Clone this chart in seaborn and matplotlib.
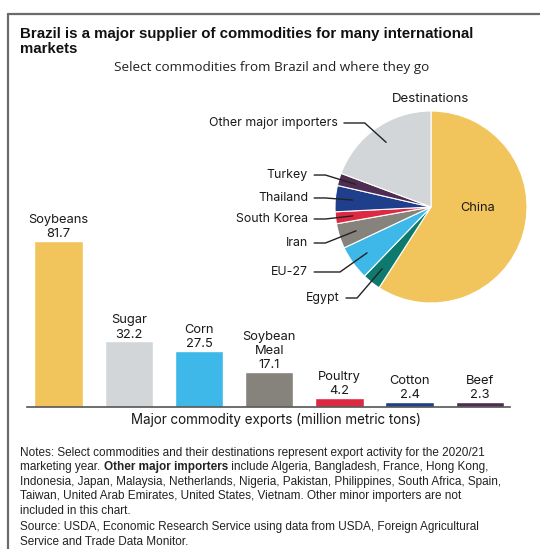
import math
import matplotlib
matplotlib.use("Agg")
import matplotlib.pyplot as plt
from matplotlib.lines import Line2D
import seaborn as sns
import pandas as pd

# bar data: exports in million metric tons
commodities = ["Soybeans", "Sugar", "Corn", "Soybean\nMeal", "Poultry", "Cotton", "Beef"]
exports = [81.7, 32.2, 27.5, 17.1, 4.2, 2.4, 2.3]
bar_colors = ["#f2c55c", "#d3d6d8", "#3db8e8", "#85837c", "#dc2a42", "#1f3f8c", "#4f2d52"]

# pie data: share of destinations (percent)
destinations = ["China", "Egypt", "EU-27", "Iran", "South Korea", "Thailand", "Turkey",
                "Other major importers"]
shares = [59.1, 3.1, 5.8, 4.2, 2.0, 4.4, 2.1, 19.3]
pie_colors = ["#f2c55c", "#0e7a6e", "#3db8e8", "#85837c", "#dc2a42", "#1f3f8c", "#4f2d52",
              "#d3d6d8"]

sns.set_theme(style="white")
plt.rcParams['font.family'] = ['Inter', 'DejaVu Sans']

W, H = 540, 549
fig = plt.figure(figsize=(5.4, 5.49), dpi=100)

# frame
fig.add_artist(Line2D([8 / W, 8 / W], [0, 1 - 14 / H], transform=fig.transFigure,
                      color="#6b6b6b", lw=1.6))
fig.add_artist(Line2D([8 / W, 1], [1 - 14 / H, 1 - 14 / H], transform=fig.transFigure,
                      color="#6b6b6b", lw=1.6))

# titles
fig.text(20 / W, 1 - 34 / H, "Brazil is a major supplier of commodities for many international",
         family="Liberation Sans", weight="bold", fontsize=10.8, va="center", color="#111")
fig.text(20 / W, 1 - 48.5 / H, "markets",
         family="Liberation Sans", weight="bold", fontsize=10.8, va="center", color="#111")
fig.text(272 / W, 1 - 68 / H, "Select commodities from Brazil and where they go",
         family="Open Sans", fontsize=9.7, ha="center", va="center", color="#222")

# bar chart
ax = fig.add_axes([27 / W, 1 - 406.7 / H, 483 / W, 206.7 / H])
df = pd.DataFrame({"commodity": commodities, "exports": exports})
sns.barplot(data=df, x="commodity", y="exports", hue="commodity", palette=bar_colors,
            legend=False, width=0.69, saturation=1, ax=ax)
ax.set_xlim(-0.45, 6.43)
ax.set_ylim(0, 101.8)
ax.set_xticks([])
ax.set_yticks([])
ax.set_xlabel("")
ax.set_ylabel("")
for s in ["top", "left", "right"]:
    ax.spines[s].set_visible(False)
ax.spines["bottom"].set_color("#555555")
ax.spines["bottom"].set_linewidth(1.2)
for p, name, val in zip(ax.patches, commodities, exports):
    ax.annotate(f"{name}\n{val}", (p.get_x() + p.get_width() / 2, p.get_height()),
                xytext=(0, 0.5), textcoords="offset points", ha="center", va="bottom",
                fontsize=9.3, linespacing=1.25, color="#1a1a1a")
fig.text(276 / W, 1 - 420 / H, "Major commodity exports (million metric tons)",
         fontsize=9.7, ha="center", va="center", color="#1a1a1a")

# pie chart
cx, cy, r = 431, 207, 96
axp = fig.add_axes([(cx - r) / W, 1 - (cy + r) / H, 2 * r / W, 2 * r / H])
wedges, _ = axp.pie(shares, colors=pie_colors, startangle=90, counterclock=False,
                    wedgeprops=dict(edgecolor="white", linewidth=0.8))
axp.set_xlim(-1, 1)
axp.set_ylim(-1, 1)
axp.set_aspect("equal")
axp.axis("off")
axp.text(0, 1.125, "Destinations", ha="center", va="center", fontsize=9.6, color="#1a1a1a")
axp.text(0.49, -0.01, "China", ha="center", va="center", fontsize=9.2, color="#1a1a1a")

# label positions (right edge of text, y) and elbow x, in pie units
label_pos = {
    "Other major importers": (-0.97, 0.875, -0.69),
    "Turkey": (-1.28, 0.333, -1.10),
    "Thailand": (-1.28, 0.094, -1.10),
    "South Korea": (-1.28, -0.125, -1.10),
    "Iran": (-1.28, -0.375, -1.10),
    "EU-27": (-1.28, -0.677, -0.948),
    "Egypt": (-0.948, -0.948, -0.77),
}
for w, name in zip(wedges, destinations):
    if name not in label_pos:
        continue
    tx, ty, ex = label_pos[name]
    mid = math.radians((w.theta1 + w.theta2) / 2)
    px, py = 0.82 * math.cos(mid), 0.82 * math.sin(mid)
    angb = math.degrees(math.atan2(py - ty, px - ex))
    axp.annotate(name, (px, py), xytext=(tx, ty), ha="right", va="center", fontsize=8.9,
                 color="#1a1a1a", annotation_clip=False,
                 arrowprops=dict(arrowstyle="-", color="#222", lw=1.0, shrinkA=2, shrinkB=0,
                                 connectionstyle=f"angle,angleA=0,angleB={angb},rad=0"))

# notes
nfont = dict(family="Liberation Sans", fontsize=8.5, color="#222")
x0 = 20 / W
ys = [453, 467, 482, 496, 511, 527, 542]
fig.text(x0, 1 - ys[0] / H, "Notes: Select commodities and their destinations represent export activity for the 2020/21",
         va="center", **nfont)
t = fig.text(x0, 1 - ys[1] / H, "marketing year. ", va="center", **nfont)
t = fig.add_artist(plt.Annotation("Other major importers", (1, 0.5), xycoords=t,
                                  va="center", ha="left", weight="bold", **nfont))
fig.add_artist(plt.Annotation(" include Algeria, Bangladesh, France, Hong Kong,", (1, 0.5),
                              xycoords=t, va="center", ha="left", **nfont))
rest = ["Indonesia, Japan, Malaysia, Netherlands, Nigeria, Pakistan, Philippines, South Africa, Spain,",
        "Taiwan, United Arab Emirates, United States, Vietnam. Other minor importers are not",
        "included in this chart.",
        "Source: USDA, Economic Research Service using data from USDA, Foreign Agricultural",
        "Service and Trade Data Monitor."]
for y, line in zip(ys[2:], rest):
    fig.text(x0, 1 - y / H, line, va="center", **nfont)

fig.savefig("out.png", dpi=100)
